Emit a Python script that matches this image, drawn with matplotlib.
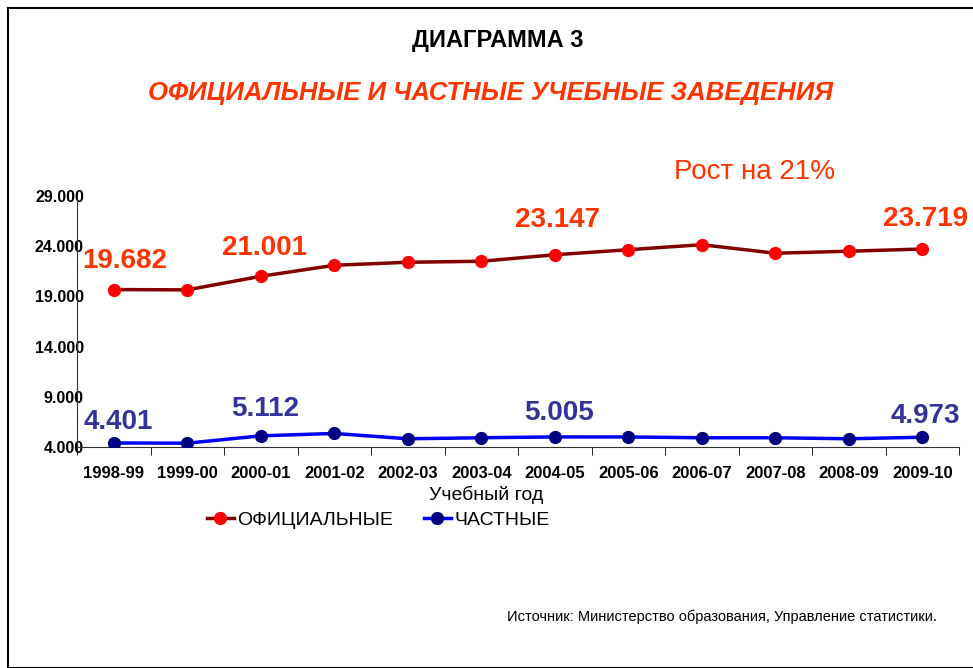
import matplotlib.pyplot as plt
from matplotlib.patches import Rectangle
from matplotlib.ticker import FixedLocator, FuncFormatter

years = ['1998-99', '1999-00', '2000-01', '2001-02', '2002-03', '2003-04',
         '2004-05', '2005-06', '2006-07', '2007-08', '2008-09', '2009-10']
official = [19.682, 19.650, 21.001, 22.10, 22.40, 22.50, 23.147, 23.65, 24.15, 23.30, 23.50, 23.719]
private = [4.401, 4.380, 5.112, 5.350, 4.820, 4.920, 5.005, 5.000, 4.920, 4.920, 4.820, 4.973]
labelled = [0, 2, 6, 11]
yticks = [4, 9, 14, 19, 24, 29]

# label offsets in points (dx, dy) for the value annotations
off_red = {0: (8, 11), 2: (3, 11), 6: (2, 16), 11: (2, 12)}
off_blue = {0: (3, 6), 2: (3, 10), 6: (3, 8), 11: (2, 6)}

plt.rcParams['font.family'] = ['Liberation Sans', 'DejaVu Sans']

fig = plt.figure(figsize=(9.73, 6.68), dpi=100)
fig.patches.append(Rectangle((8 / 973, 0), 1.2, 1 - 8 / 668, transform=fig.transFigure,
                             fill=False, edgecolor='black', linewidth=1.5))

ax = fig.add_axes([77 / 973, 1 - 447 / 668, (959 - 77) / 973, (447 - 196) / 668])
x = list(range(len(years)))

ax.plot(x, official, color='#800000', linewidth=2.5, marker='o', markersize=8.5,
        markerfacecolor='#FF0000', markeredgecolor='#FF0000', label='ОФИЦИАЛЬНЫЕ', zorder=3)
ax.plot(x, private, color='#0000FF', linewidth=2.5, marker='o', markersize=8.5,
        markerfacecolor='#000080', markeredgecolor='#000080', label='ЧАСТНЫЕ', zorder=3)

for i in labelled:
    ax.annotate(f'{official[i]:.3f}', (x[i], official[i]), xytext=off_red[i],
                textcoords='offset points', ha='center', va='bottom',
                fontsize=20, fontweight='bold', color='#FF3300')
    ax.annotate(f'{private[i]:.3f}', (x[i], private[i]), xytext=off_blue[i],
                textcoords='offset points', ha='center', va='bottom',
                fontsize=20, fontweight='bold', color='#333399')

ax.set_xlim(-0.5, len(years) - 0.5)
ax.set_ylim(4, 29)
ax.set_yticks(yticks)
ax.yaxis.set_major_formatter(FuncFormatter(lambda v, p: f'{v:.3f}'))
ax.tick_params(axis='y', length=0, pad=-5, labelsize=11.5)
for t in ax.get_yticklabels():
    t.set_fontweight('bold')

ax.set_xticks(x)
ax.set_xticklabels(years, fontsize=12, fontweight='bold')
ax.xaxis.set_minor_locator(FixedLocator([i - 0.5 for i in range(len(years) + 1)]))
ax.tick_params(axis='x', which='major', length=0, pad=14)
ax.tick_params(axis='x', which='minor', length=6, direction='out')
ax.set_xlabel('Учебный год', fontsize=14, labelpad=1)
ax.xaxis.set_label_coords((486 - 77) / (959 - 77), -0.155)

for s in ['top', 'right']:
    ax.spines[s].set_visible(False)
ax.spines['left'].set_color('#333333')
ax.spines['bottom'].set_color('#333333')

ax.legend(loc='center', bbox_to_anchor=((378 - 77) / (959 - 77), -(520 - 447) / (447 - 196)),
          ncol=2, frameon=False, fontsize=14, handlelength=1.4, handletextpad=0.15,
          columnspacing=1.6, borderpad=0)

fig.text(498 / 973, 1 - 40 / 668, 'ДИАГРАММА 3', ha='center', va='center',
         fontsize=17, fontweight='bold')
fig.text(490 / 973, 1 - 93 / 668, 'ОФИЦИАЛЬНЫЕ И ЧАСТНЫЕ УЧЕБНЫЕ ЗАВЕДЕНИЯ', ha='center',
         va='center', fontsize=18.5, fontweight='bold', fontstyle='italic', color='#FF3300')
fig.text(754 / 973, 1 - 172 / 668, 'Рост на 21%', ha='center', va='center',
         fontsize=20, color='#FF3300')
fig.text(722 / 973, 1 - 617 / 668, 'Источник: Министерство образования, Управление статистики.',
         ha='center', va='center', fontsize=10.5)

fig.savefig('out.png', dpi=100)
